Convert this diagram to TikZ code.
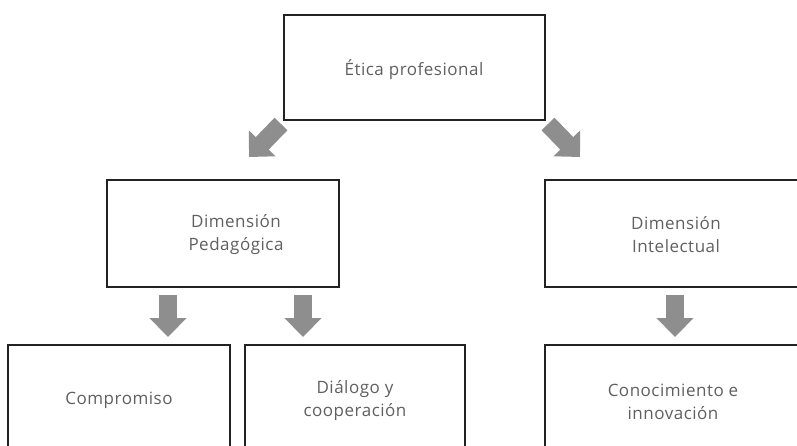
\documentclass[tikz,border=0pt]{standalone}
\usepackage{fontspec}
\setmainfont[LetterSpace=3]{Open Sans}
\usetikzlibrary{arrows.meta}
\definecolor{txt}{HTML}{606060}
\definecolor{arr}{HTML}{8E8E8E}
\definecolor{edge}{HTML}{222222}
\begin{document}
\begin{tikzpicture}[x=1pt,y=-1pt,
  box/.style={draw=edge,line width=2pt,rectangle,inner sep=0pt,fill=white},
  lbl/.style={text=txt,font=\fontsize{17}{23}\selectfont,align=center,inner sep=0pt},
  blk/.style={draw=arr,line width=18pt,-{Triangle[width=36pt,length=19pt]}}]
\useasboundingbox[fill=white] (0,0) rectangle (797,445);
\clip (0,0) rectangle (797,445);
% boxes
\node[box,minimum width=261pt,minimum height=105pt] (etica) at (414.5,67.5) {};
\node[box,minimum width=232pt,minimum height=107pt] (ped) at (223,233.5) {};
\node[box,minimum width=262pt,minimum height=107pt] (intel) at (676,233.5) {};
\node[box,minimum width=222pt,minimum height=107pt] (comp) at (119,398.5) {};
\node[box,minimum width=220pt,minimum height=107pt] (dial) at (355,398.5) {};
\node[box,minimum width=262pt,minimum height=107pt] (cono) at (676,398.5) {};
% labels
\node[lbl] (eticat) at (414,70) {Ética profesional};
\node[lbl] (pedt) at (236,235) {Dimensión\\Pedagógica};
\node[lbl] (intelt) at (676,235) {Dimensión\\Intelectual};
\node[lbl] (compt) at (119,400) {Compromiso};
\node[lbl] (dialt) at (355,401) {Diálogo y\\cooperación};
\node[lbl] (conot) at (673,402) {Conocimiento e\\innovación};
% arrow end points
\coordinate (a1s) at (281,124); \coordinate (a1e) at (249,157);
\coordinate (a2s) at (548,124); \coordinate (a2e) at (580,157);
\coordinate (a3s) at (168,295); \coordinate (a3e) at (168,337);
\coordinate (a4s) at (303,295); \coordinate (a4e) at (303,337);
\coordinate (a5s) at (675,295); \coordinate (a5e) at (675,337);
\draw[blk] (a1s) -- (a1e);
\draw[blk] (a2s) -- (a2e);
\draw[blk] (a3s) -- (a3e);
\draw[blk] (a4s) -- (a4e);
\draw[blk] (a5s) -- (a5e);
\end{tikzpicture}
\end{document}
